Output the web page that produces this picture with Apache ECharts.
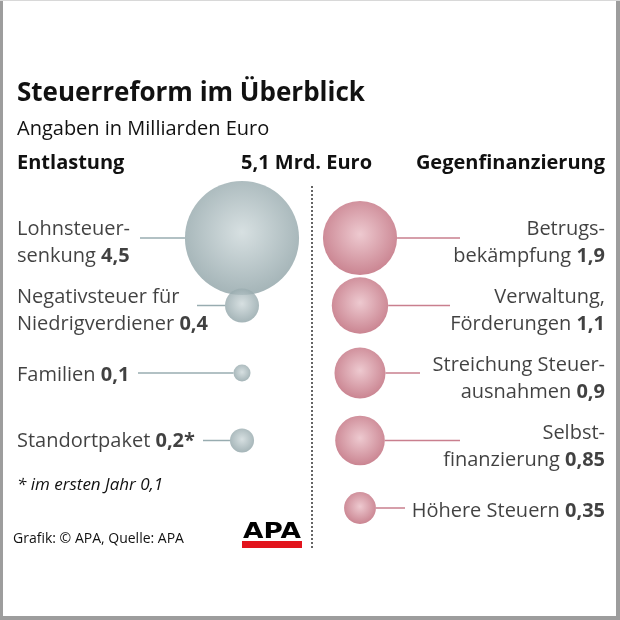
<!DOCTYPE html>
<html>
<head>
<meta charset="utf-8">
<script src="https://cdn.jsdelivr.net/npm/echarts@6/dist/echarts.min.js"></script>
<style>html,body{margin:0;padding:0;background:#fff}#c{width:620px;height:620px}</style>
</head>
<body>
<div id="c"></div>
<script>
// ---- data ----
var entNames = ['Lohnsteuer-\nsenkung', 'Negativsteuer für\nNiedrigverdiener', 'Familien', 'Standortpaket'];
var entValues = [4.5, 0.4, 0.1, 0.2];
var entSuffix = ['', '', '', '*'];
var gegNames = ['Betrugs-\nbekämpfung', 'Verwaltung,\nFörderungen', 'Streichung Steuer-\nausnahmen', 'Selbst-\nfinanzierung', 'Höhere Steuern'];
var gegValues = [1.9, 1.1, 0.9, 0.85, 0.35];
var totalLabel = '5,1 Mrd. Euro';
var rowCats = ['r1', 'r2', 'r3', 'r4', 'r5'];
var colCats = ['Entlastung', 'Gegenfinanzierung'];

// ---- layout constants ----
var FONT = '"Open Sans", "Noto Sans", sans-serif';
var entLineStart = [140, 197, 138, 203];
var gegLineEnd = [460, 450, 420, 460, 405];
var entDy = [5, 5, 2, 1];
var gegDy = [5, 5, 6, 6, 3];

function fmt(v) { return String(v).replace('.', ','); }
function sizeOf(v) { return 53.8 * Math.sqrt(v); }
function richLabel(name, val, suffix) {
  var lines = name.split('\n');
  var out = [];
  for (var i = 0; i < lines.length; i++) {
    if (i === lines.length - 1) out.push('{n|' + lines[i] + ' }{b|' + fmt(val) + (suffix || '') + '}');
    else out.push('{n|' + lines[i] + '}');
  }
  return out.join('\n');
}
var rich = {
  n: { fontFamily: FONT, fontSize: 20, color: '#111', lineHeight: 27 },
  b: { fontFamily: FONT, fontSize: 20, color: '#111', fontWeight: 'bold', lineHeight: 27 }
};
var grayGrad = { type: 'radial', x: 0.5, y: 0.45, r: 0.55, colorStops: [
  { offset: 0, color: '#cdd8da' }, { offset: 1, color: '#8ea2a6' } ] };
var pinkGrad = { type: 'radial', x: 0.5, y: 0.45, r: 0.55, colorStops: [
  { offset: 0, color: '#e9bcc4' }, { offset: 1, color: '#bd6676' } ] };

var entData = entValues.map(function (v, i) { return { value: [0, i, v], name: entNames[i] }; });
var gegData = gegValues.map(function (v, i) { return { value: [1, i, v], name: gegNames[i] }; });

var chart = echarts.init(document.getElementById('c'), null, { renderer: 'canvas' });

var staticGraphic = [
  { type: 'rect', shape: { x: 0, y: 0, width: 3, height: 620 }, style: { fill: '#9d9d9d' } },
  { type: 'rect', shape: { x: 616, y: 0, width: 4, height: 620 }, style: { fill: '#9d9d9d' } },
  { type: 'rect', shape: { x: 0, y: 616, width: 620, height: 4 }, style: { fill: '#9d9d9d' } },
  { type: 'rect', shape: { x: 0, y: 0, width: 620, height: 1 }, style: { fill: '#d8d8d8' } },
  { type: 'text', left: 17, top: 81, style: { text: 'Steuerreform im Überblick', font: 'bold 26px ' + FONT, fill: '#111' } },
  { type: 'text', left: 17, top: 119, style: { text: 'Angaben in Milliarden Euro', font: '20px ' + FONT, fill: '#111' } },
  { type: 'text', left: 17, top: 153, style: { text: colCats[0], font: 'bold 20px ' + FONT, fill: '#111' } },
  { type: 'text', left: 241, top: 153, style: { text: totalLabel, font: 'bold 20px ' + FONT, fill: '#111' } },
  { type: 'text', right: 15, top: 153, style: { text: colCats[1], font: 'bold 20px ' + FONT, fill: '#111' } },
  { type: 'line', shape: { x1: 312, y1: 186, x2: 312, y2: 549 }, style: { stroke: '#333', lineWidth: 1.5, lineDash: [2, 2] } },
  { type: 'text', left: 17, top: 477, style: { text: '* im ersten Jahr 0,1', font: 'italic 17px ' + FONT, fill: '#111' } },
  { type: 'text', left: 13, top: 532, style: { text: 'Grafik: © APA, Quelle: APA', font: '14px ' + FONT, fill: '#111' } },
  { type: 'rect', shape: { x: 242, y: 541, width: 60, height: 7 }, style: { fill: '#e2141d' } },
  { type: 'text', x: 272, y: 543, scaleX: 1.2, originX: 0, originY: 0,
    style: { text: 'APA', font: 'bold 22px "DejaVu Sans", sans-serif', fill: '#000', textAlign: 'center', textVerticalAlign: 'bottom' } }
];

chart.setOption({
  animation: false,
  grid: { left: 183, right: 201, top: 204.25, bottom: 78.25 },
  xAxis: { type: 'category', data: colCats, show: false },
  yAxis: { type: 'category', data: rowCats, inverse: true, show: false },
  series: [
    {
      type: 'scatter', data: entData, silent: true,
      symbolSize: function (val) { return sizeOf(val[2]); },
      itemStyle: { color: grayGrad },
      label: {
        show: true, position: 'inside',
        formatter: function (p) { return richLabel(p.name, p.value[2], entSuffix[p.dataIndex]); },
        rich: rich
      },
      labelLayout: function (p) {
        return { x: 17, y: p.rect.y + p.rect.height / 2 + entDy[p.dataIndex], align: 'left', verticalAlign: 'middle' };
      }
    },
    {
      type: 'scatter', data: gegData, silent: true,
      symbolSize: function (val) { return sizeOf(val[2]); },
      itemStyle: { color: pinkGrad },
      label: {
        show: true, position: 'inside',
        formatter: function (p) { return richLabel(p.name, p.value[2], ''); },
        rich: rich
      },
      labelLayout: function (p) {
        return { x: 605, y: p.rect.y + p.rect.height / 2 + gegDy[p.dataIndex], align: 'right', verticalAlign: 'middle' };
      }
    }
  ],
  graphic: staticGraphic
});

// connector lines from bubble edges
var lines = [];
entValues.forEach(function (v, i) {
  var pt = chart.convertToPixel({ seriesIndex: 0 }, [0, i]);
  var r = sizeOf(v) / 2;
  lines.push({ type: 'line', z: -1, shape: { x1: entLineStart[i], y1: pt[1], x2: pt[0] - r, y2: pt[1] }, style: { stroke: '#98acb0', lineWidth: 1.5 } });
});
gegValues.forEach(function (v, i) {
  var pt = chart.convertToPixel({ seriesIndex: 1 }, [1, i]);
  var r = sizeOf(v) / 2;
  lines.push({ type: 'line', z: -1, shape: { x1: pt[0] + r, y1: pt[1], x2: gegLineEnd[i], y2: pt[1] }, style: { stroke: '#c97f8e', lineWidth: 1.5 } });
});
chart.setOption({ graphic: staticGraphic.concat(lines) }, { replaceMerge: ['graphic'] });
</script>
</body>
</html>
